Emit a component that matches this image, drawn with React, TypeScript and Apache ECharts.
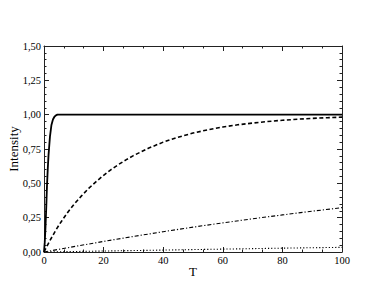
import React, { useEffect, useRef } from "react";
import * as echarts from "echarts";

// Values
const fastT = [0, 0.25, 0.5, 0.75, 1, 1.25, 1.5, 1.75, 2, 2.5, 3, 3.5, 4, 4.5, 5, 10, 20, 40, 60, 80, 100];
const fastI = [0, 0.07, 0.18, 0.32, 0.48, 0.6, 0.7, 0.77, 0.84, 0.925, 0.965, 0.985, 0.995, 1.0, 1.0, 1.0, 1.0, 1.0, 1.0, 1.0, 1.0];

const midT = [0, 1, 2, 3, 4, 5, 6, 8, 10, 12.5, 15, 17.5, 20, 22.5, 25, 27.5, 30, 35, 40, 45, 50, 55, 60, 65, 70, 75, 80, 85, 90, 95, 100];
const midI = [0, 0.042, 0.083, 0.122, 0.16, 0.195, 0.228, 0.29, 0.345, 0.407, 0.463, 0.513, 0.558, 0.6, 0.637, 0.671, 0.702, 0.755, 0.8, 0.836, 0.866, 0.89, 0.91, 0.926, 0.939, 0.95, 0.959, 0.967, 0.973, 0.978, 0.982];

const slowT = [0, 10, 20, 30, 40, 50, 60, 70, 80, 90, 100];
const slowI = [0, 0.039, 0.077, 0.113, 0.148, 0.181, 0.212, 0.242, 0.27, 0.297, 0.323];

const slowestT = [0, 20, 40, 60, 80, 100];
const slowestI = [0, 0.007, 0.014, 0.021, 0.028, 0.034];

const xTicks = [0, 20, 40, 60, 80, 100];
const yTicks = [0, 0.25, 0.5, 0.75, 1.0, 1.25, 1.5];

const pairs = (xs: number[], ys: number[]) => xs.map((x, i) => [x, ys[i]]);

const FONT = "Liberation Serif";
const AX = "#222";

export default function App() {
  const ref = useRef<HTMLDivElement>(null);
  useEffect(() => {
    if (!ref.current) return;
    const chart = echarts.init(ref.current, undefined, { renderer: "svg" });
    const commonX = {
      type: "value" as const,
      min: xTicks[0],
      max: xTicks[xTicks.length - 1],
      interval: 20,
      axisLine: { show: true, onZero: false, lineStyle: { color: AX, width: 1 } },
      axisTick: { show: true, inside: true, length: 5, lineStyle: { color: AX } },
      minorTick: { show: true, splitNumber: 3, length: 2.5, lineStyle: { color: AX } },
      splitLine: { show: false },
      minorSplitLine: { show: false },
    };
    const commonY = {
      type: "value" as const,
      min: yTicks[0],
      max: yTicks[yTicks.length - 1],
      interval: 0.25,
      axisLine: { show: true, onZero: false, lineStyle: { color: AX, width: 1 } },
      axisTick: { show: true, inside: true, length: 5, lineStyle: { color: AX } },
      minorTick: { show: true, splitNumber: 5, length: 2.5, lineStyle: { color: AX } },
      splitLine: { show: false },
      minorSplitLine: { show: false },
    };
    const lineSeries = (data: number[][], width: number, type: any) => ({
      type: "line" as const,
      data,
      showSymbol: false,
      symbol: "none",
      smooth: false,
      lineStyle: { color: "#000", width, type },
      z: 3,
    });
    chart.setOption({
      animation: false,
      backgroundColor: "#fff",
      grid: {
        left: 44,
        right: 43,
        top: 46,
        bottom: 46,
        containLabel: false,
        outerBoundsMode: "none",
      },
      xAxis: [
        {
          ...commonX,
          position: "bottom",
          name: "T",
          nameLocation: "middle",
          nameGap: 13,
          nameMoveOverlap: false,
          nameTextStyle: { fontFamily: FONT, fontSize: 13, color: "#000" },
          axisLabel: { show: true, margin: 3, fontFamily: FONT, fontSize: 10.5, color: "#000" },
        },
        { ...commonX, position: "top", axisLabel: { show: false } },
      ],
      yAxis: [
        {
          ...commonY,
          position: "left",
          name: "Intensity",
          nameLocation: "middle",
          nameGap: 24,
          nameMoveOverlap: false,
          nameTextStyle: { fontFamily: FONT, fontSize: 13, color: "#000" },
          axisLabel: {
            show: true,
            margin: 3,
            fontFamily: FONT,
            fontSize: 10.5,
            color: "#000",
            formatter: (v: number) => v.toFixed(2).replace(".", ","),
          },
        },
        { ...commonY, position: "right", axisLabel: { show: false } },
      ],
      series: [
        lineSeries(pairs(slowestT, slowestI), 1.1, [1.2, 2]),
        lineSeries(pairs(slowT, slowI), 1.1, [4, 2, 1.2, 2]),
        lineSeries(pairs(midT, midI), 1.6, [4, 2.5]),
        lineSeries(pairs(fastT, fastI), 1.8, "solid"),
      ],
    });
    return () => chart.dispose();
  }, []);
  return (
    <div
      ref={ref}
      style={{ position: "absolute", left: 0, top: 0, width: 385, height: 298 }}
    />
  );
}
